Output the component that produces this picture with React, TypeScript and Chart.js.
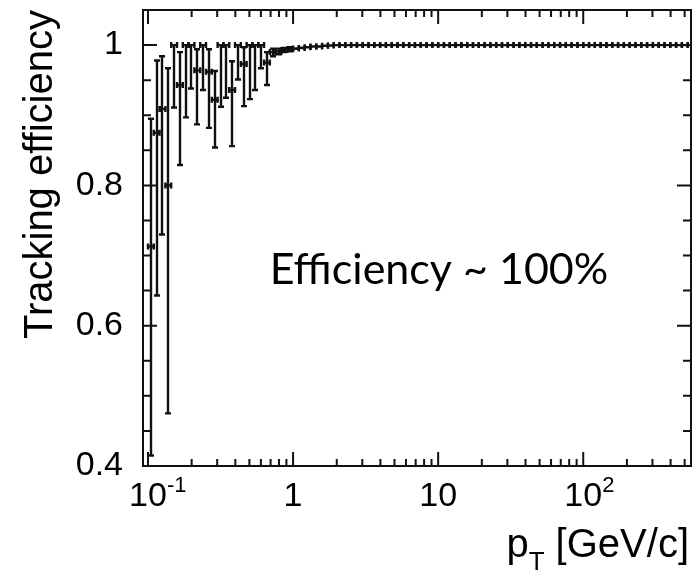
import React, { useEffect, useRef } from 'react';
import { Chart, registerables } from 'chart.js';

Chart.register(...registerables);

// ---- data ----
const ptBins = [
  0.1047, 0.1148, 0.1259, 0.138, 0.1514, 0.166, 0.182, 0.1995, 0.2188, 0.2399,
  0.263, 0.2884, 0.3162, 0.3467, 0.3802, 0.4169, 0.4571, 0.5012, 0.5495, 0.6026,
  0.6607, 0.7244, 0.7943, 0.871, 0.955, 1.047, 1.148, 1.259, 1.38, 1.514,
  1.66, 1.82, 1.995, 2.188, 2.399, 2.63, 2.884, 3.162, 3.467, 3.802,
  4.169, 4.571, 5.012, 5.495, 6.026, 6.607, 7.244, 7.943, 8.71, 9.55,
  10.47, 11.48, 12.59, 13.8, 15.14, 16.6, 18.2, 19.95, 21.88, 23.99,
  26.3, 28.84, 31.62, 34.67, 38.02, 41.69, 45.71, 50.12, 54.95, 60.26,
  66.07, 72.44, 79.43, 87.1, 95.5, 104.7, 114.8, 125.9, 138.0, 151.4,
  166.0, 182.0, 199.5, 218.8, 239.9, 263.0, 288.4, 316.2, 346.7, 380.2,
  416.9, 457.1, 501.2, 549.5,
];

const efficiency = [
  0.713, 0.875, 0.909, 0.8, 1.0, 0.943, 1.0, 1.0, 0.964, 1.0,
  0.962, 0.922, 1.0, 1.0, 0.936, 1.0, 0.973, 1.0, 1.0, 1.0,
  0.975, 0.99, 0.991, 0.993, 0.994, 0.995, 0.996, 0.997, 0.998, 0.998,
  0.999, 0.9995, 1, 1, 1, 1, 1, 1, 1, 1,
  1, 1, 1, 1, 1, 1, 1, 1, 1, 1,
  1, 1, 1, 1, 1, 1, 1, 1, 1, 1,
  1, 1, 1, 1, 1, 1, 1, 1, 1, 1,
  1, 1, 1, 1, 1, 1, 1, 1, 1, 1,
  1, 1, 1, 1, 1, 1, 1, 1, 1, 1,
  1, 1, 1, 1,
];

const effLow = [
  0.415, 0.643, 0.73, 0.475, 0.911, 0.829, 0.897, 0.938, 0.887, 0.936,
  0.882, 0.854, 0.912, 0.925, 0.856, 0.951, 0.913, 0.923, 0.936, 0.967,
  0.943, 0.984, 0.987, 0.99, 0.991, 0.993, 0.994, 0.995, 0.997, 0.997,
  0.998, 0.999, 1, 1, 1, 1, 1, 1, 1, 1,
  1, 1, 1, 1, 1, 1, 1, 1, 1, 1,
  1, 1, 1, 1, 1, 1, 1, 1, 1, 1,
  1, 1, 1, 1, 1, 1, 1, 1, 1, 1,
  1, 1, 1, 1, 1, 1, 1, 1, 1, 1,
  1, 1, 1, 1, 1, 1, 1, 1, 1, 1,
  1, 1, 1, 1,
];

const effHigh = [
  0.895, 0.978, 0.984, 0.967, 1.0, 0.99, 1.0, 1.0, 0.994, 1.0,
  0.994, 0.963, 1.0, 1.0, 0.977, 1.0, 0.997, 1.0, 1.0, 1.0,
  0.99, 0.995, 0.995, 0.996, 0.997, 0.997, 0.998, 0.998, 0.999, 0.999,
  0.9995, 1, 1, 1, 1, 1, 1, 1, 1, 1,
  1, 1, 1, 1, 1, 1, 1, 1, 1, 1,
  1, 1, 1, 1, 1, 1, 1, 1, 1, 1,
  1, 1, 1, 1, 1, 1, 1, 1, 1, 1,
  1, 1, 1, 1, 1, 1, 1, 1, 1, 1,
  1, 1, 1, 1, 1, 1, 1, 1, 1, 1,
  1, 1, 1, 1,
];

const yLabelValues = [0.4, 0.6, 0.8, 1.0];
const yMinorValues = [0.45, 0.5, 0.55, 0.65, 0.7, 0.75, 0.85, 0.9, 0.95];
const xMajorValues = [0.1, 1, 10, 100];
const xMinorValues = [
  0.2, 0.3, 0.4, 0.5, 0.6, 0.7, 0.8, 0.9,
  2, 3, 4, 5, 6, 7, 8, 9,
  20, 30, 40, 50, 60, 70, 80, 90,
  200, 300, 400, 500,
];
const xTickBase = ['10', '1', '10', '10'];
const xTickSup = ['-1', '', '', '2'];

const yTitle = 'Tracking efficiency';
const xTitleMain = 'p';
const xTitleSub = 'T';
const xTitleRest = ' [GeV/c]';
const annotationText = 'Efficiency ~ 100%';
const annotationAt = { x: 0.69, y: 0.66 };

// ---- layout / style constants ----
const X_MIN = 0.0924;
const X_MAX = 553;
const Y_MIN = 0.4;
const Y_MAX = 1.05;
const BIN_HALF_DEX = 0.02;
const FAMILY = '"Liberation Sans", Arial, Helvetica, sans-serif';
const INK = '#111111';

const rootStylePlugin = {
  id: 'rootStyle',
  afterDatasetsDraw(chart: any) {
    const { ctx, chartArea, scales } = chart;
    const { left, right, top, bottom } = chartArea;
    const xs = scales.x;
    const ys = scales.y;
    ctx.save();
    ctx.strokeStyle = INK;
    ctx.fillStyle = INK;
    ctx.lineWidth = 2.4;
    ctx.lineCap = 'butt';

    // error bars and markers
    const CAP = 3;
    for (let i = 0; i < ptBins.length; i++) {
      const px = Math.round(xs.getPixelForValue(ptBins[i]));
      const f = Math.pow(10, BIN_HALF_DEX);
      const pl = xs.getPixelForValue(ptBins[i] / f);
      const pr = Math.min(xs.getPixelForValue(ptBins[i] * f), right);
      const py = ys.getPixelForValue(efficiency[i]);
      const pLo = ys.getPixelForValue(effLow[i]);
      const pHi = ys.getPixelForValue(effHigh[i]);
      ctx.beginPath();
      // vertical error
      ctx.moveTo(px, pHi);
      ctx.lineTo(px, pLo);
      if (pLo - py > 2) {
        ctx.moveTo(px - CAP, pLo);
        ctx.lineTo(px + CAP, pLo);
      }
      if (py - pHi > 2) {
        ctx.moveTo(px - CAP, pHi);
        ctx.lineTo(px + CAP, pHi);
      }
      // horizontal error with end ticks
      ctx.moveTo(pl, py);
      ctx.lineTo(pr, py);
      ctx.moveTo(pl, py - CAP);
      ctx.lineTo(pl, py + CAP);
      if (pr < right - 1) {
        ctx.moveTo(pr, py - CAP);
        ctx.lineTo(pr, py + CAP);
      }
      ctx.stroke();
    }

    // frame
    ctx.lineWidth = 2;
    ctx.strokeRect(left, top, right - left, bottom - top);

    // ticks
    const MAJ = 14;
    const MIN = 7;
    ctx.beginPath();
    xMajorValues.forEach((v) => {
      const p = xs.getPixelForValue(v);
      ctx.moveTo(p, bottom);
      ctx.lineTo(p, bottom - MAJ);
      ctx.moveTo(p, top);
      ctx.lineTo(p, top + MAJ);
    });
    xMinorValues.forEach((v) => {
      const p = xs.getPixelForValue(v);
      ctx.moveTo(p, bottom);
      ctx.lineTo(p, bottom - MIN);
      ctx.moveTo(p, top);
      ctx.lineTo(p, top + MIN);
    });
    yLabelValues.forEach((v) => {
      const p = ys.getPixelForValue(v);
      ctx.moveTo(left, p);
      ctx.lineTo(left + MAJ, p);
      ctx.moveTo(right, p);
      ctx.lineTo(right - MAJ, p);
    });
    yMinorValues.forEach((v) => {
      const p = ys.getPixelForValue(v);
      ctx.moveTo(left, p);
      ctx.lineTo(left + MIN + 1, p);
      ctx.moveTo(right, p);
      ctx.lineTo(right - MIN - 1, p);
    });
    ctx.stroke();

    // x tick labels with superscripts
    ctx.fillStyle = '#000';
    ctx.textBaseline = 'alphabetic';
    ctx.textAlign = 'left';
    const LABEL_BASE = bottom + 40;
    xMajorValues.forEach((v, i) => {
      const p = xs.getPixelForValue(v);
      ctx.font = `34px ${FAMILY}`;
      const wb = ctx.measureText(xTickBase[i]).width;
      const x0 = p - wb / 2;
      ctx.fillText(xTickBase[i], x0, LABEL_BASE);
      if (xTickSup[i]) {
        ctx.font = `22px ${FAMILY}`;
        ctx.fillText(xTickSup[i], x0 + wb, LABEL_BASE - 14);
      }
    });

    // x title, right aligned
    ctx.font = `40px ${FAMILY}`;
    const wMain = ctx.measureText(xTitleMain).width;
    const wRest = ctx.measureText(xTitleRest).width;
    ctx.font = `26px ${FAMILY}`;
    const wSub = ctx.measureText(xTitleSub).width;
    const TITLE_BASE = bottom + 91;
    let tx = right - 2 - (wMain + wSub + wRest);
    ctx.font = `40px ${FAMILY}`;
    ctx.fillText(xTitleMain, tx, TITLE_BASE);
    tx += wMain;
    ctx.font = `26px ${FAMILY}`;
    ctx.fillText(xTitleSub, tx, TITLE_BASE + 13);
    tx += wSub;
    ctx.font = `40px ${FAMILY}`;
    ctx.fillText(xTitleRest, tx, TITLE_BASE);

    // annotation
    ctx.font = `43px Lato, "Open Sans", sans-serif`;
    ctx.fillText(annotationText, xs.getPixelForValue(annotationAt.x), ys.getPixelForValue(annotationAt.y));
    ctx.restore();
  },
};

export default function App() {
  const canvasRef = useRef<HTMLCanvasElement | null>(null);

  useEffect(() => {
    const canvas = canvasRef.current;
    if (!canvas) return;
    const chart = new Chart(canvas, {
      type: 'scatter',
      data: {
        datasets: [
          {
            data: ptBins.map((p, i) => ({ x: p, y: efficiency[i] })),
            pointRadius: 0,
            pointHoverRadius: 0,
            showLine: false,
          },
        ],
      },
      options: {
        animation: false,
        responsive: false,
        events: [],
        layout: { padding: { left: 0, top: 10, right: 4, bottom: 107 } },
        plugins: { legend: { display: false }, tooltip: { enabled: false } },
        scales: {
          x: { type: 'logarithmic', min: X_MIN, max: X_MAX, display: false },
          y: {
            type: 'linear',
            min: Y_MIN,
            max: Y_MAX,
            grid: { display: false },
            border: { display: false },
            afterBuildTicks: (s: any) => {
              s.ticks = yLabelValues.map((v) => ({ value: v }));
            },
            afterFit: (s: any) => {
              s.width = 143;
              s.paddingTop = 0;
              s.paddingBottom = 0;
            },
            ticks: {
              autoSkip: false,
              padding: 12,
              color: '#000',
              font: { family: FAMILY, size: 34 },
              callback: (v: any) => (Math.abs(Number(v) - 1) < 1e-6 ? '1' : Number(v).toFixed(1)),
            },
            title: {
              display: true,
              text: yTitle,
              align: 'end',
              color: '#000',
              font: { family: FAMILY, size: 40 },
              padding: { top: 17, bottom: 0 },
            },
          },
        },
      },
      plugins: [rootStylePlugin],
    } as any);
    return () => chart.destroy();
  }, []);

  return (
    <div style={{ position: 'fixed', left: 0, top: 0, width: 695, height: 573, background: '#fff' }}>
      <canvas ref={canvasRef} width={695} height={573} style={{ display: 'block' }} />
    </div>
  );
}
